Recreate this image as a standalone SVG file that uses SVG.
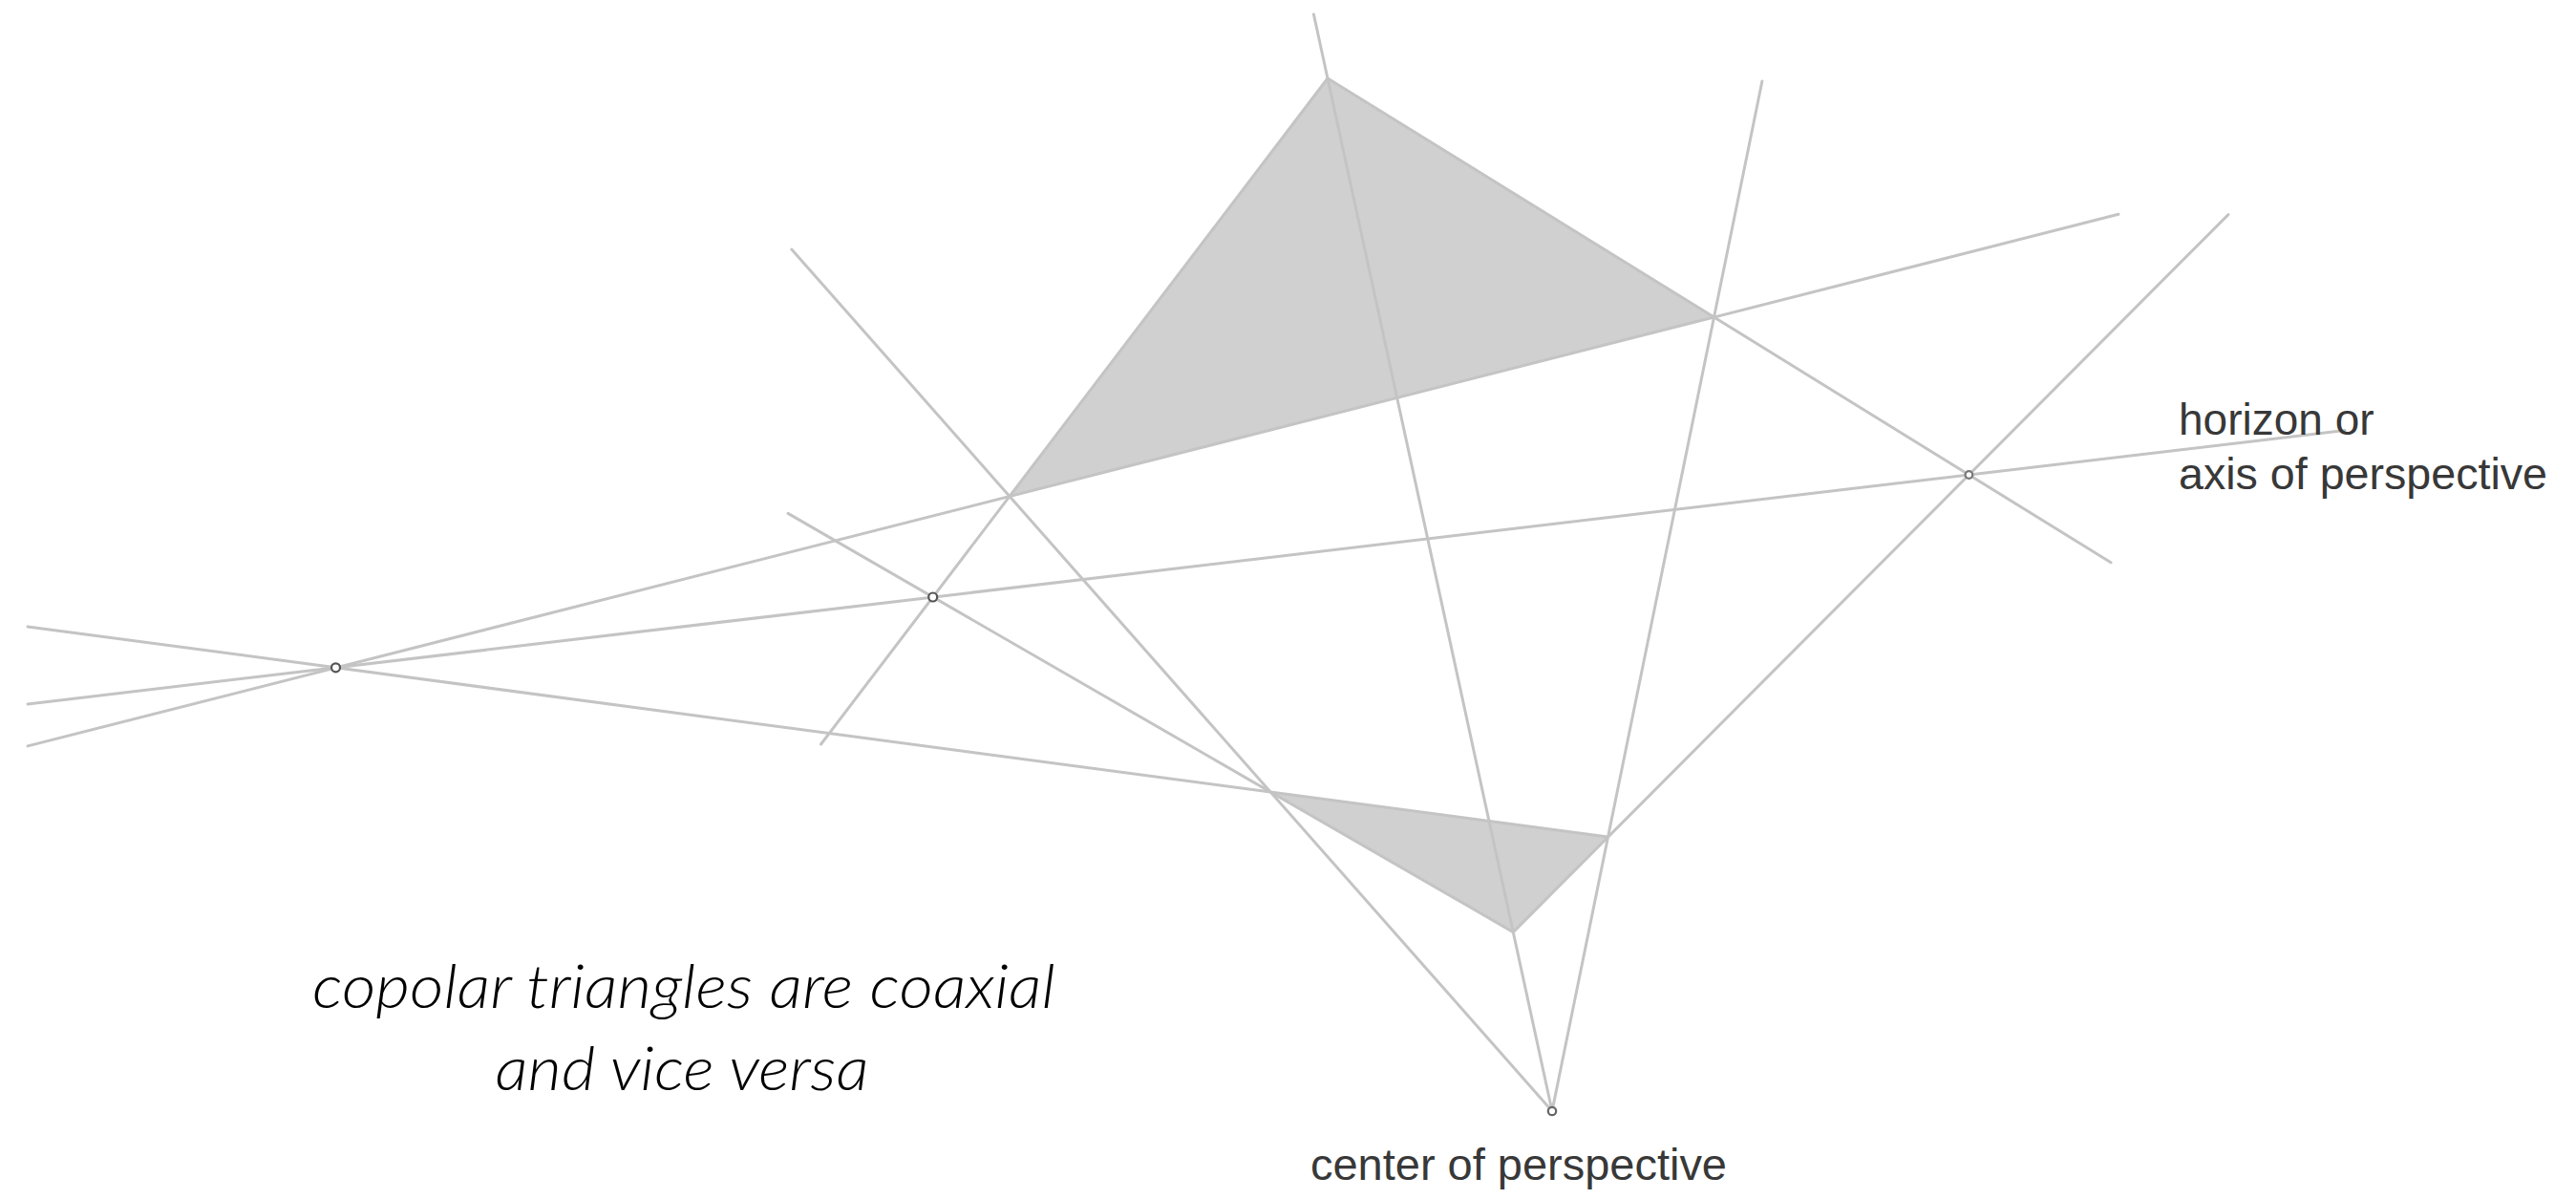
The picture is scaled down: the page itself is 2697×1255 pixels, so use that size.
<svg xmlns="http://www.w3.org/2000/svg" width="2697" height="1255" viewBox="0 0 2697 1255">
<style>
.tri{fill:#d0d0d0;stroke:none}
.ln{stroke:#c4c4c4;stroke-width:3;fill:none;stroke-linecap:round}
.pt{fill:#ffffff;stroke:#555555;stroke-width:2.2}
.lbl{font-family:"Liberation Sans",Arial,sans-serif;font-size:46px;fill:#383838}
.cap{font-family:Lato,"Liberation Sans",sans-serif;font-style:italic;font-weight:300;font-size:64px;fill:#000000}
</style>
<rect width="2697" height="1255" fill="#ffffff"/>
<g id="triangle-big"><polygon class="tri" points="1390,82 1794.5,332 1057,519.5"/></g>
<g id="triangle-small"><polygon class="tri" points="1330.2,829 1683.5,876 1584.3,975.6"/></g>
<g id="connectors">
<line class="ln" x1="29" y1="655.9" x2="1683.5" y2="876"/>
<line class="ln" x1="29" y1="736.9" x2="2455" y2="450.5"/>
<line class="ln" x1="29" y1="780.9" x2="2218" y2="224.3"/>
<line class="ln" x1="1390" y1="82" x2="859.5" y2="779"/>
<line class="ln" x1="825" y1="537.4" x2="1584.3" y2="975.6"/>
<line class="ln" x1="1390" y1="82" x2="2210" y2="588.8"/>
<line class="ln" x1="1584.3" y1="975.6" x2="2333" y2="224.6"/>
<line class="ln" x1="1625" y1="1163" x2="1375.4" y2="15"/>
<line class="ln" x1="1625" y1="1163" x2="1844.9" y2="85"/>
<line class="ln" x1="1625" y1="1163" x2="828.8" y2="261"/>
</g>
<g id="point-p1"><circle class="pt" cx="351.5" cy="698.8" r="4.5"/></g>
<g id="point-p2"><circle class="pt" cx="976.7" cy="625" r="4.5"/></g>
<g id="point-p3"><circle class="pt" cx="2061.4" cy="497" r="3.8" style="stroke:#777777"/></g>
<g id="point-center"><circle class="pt" cx="1625" cy="1163" r="4.2" style="stroke:#666666"/></g>
<g id="label-axis">
<text class="lbl" x="2281" y="455">horizon or</text>
<text class="lbl" x="2281" y="512" textLength="386" lengthAdjust="spacingAndGlyphs">axis of perspective</text>
</g>
<g id="label-center"><text class="lbl" x="1590" y="1235" text-anchor="middle" textLength="436" lengthAdjust="spacingAndGlyphs">center of perspective</text></g>
<g id="caption">
<text class="cap" x="716" y="1055" text-anchor="middle" textLength="778" lengthAdjust="spacingAndGlyphs">copolar triangles are coaxial</text>
<text class="cap" x="714" y="1141" text-anchor="middle" textLength="391" lengthAdjust="spacingAndGlyphs">and vice versa</text>
</g>
</svg>
